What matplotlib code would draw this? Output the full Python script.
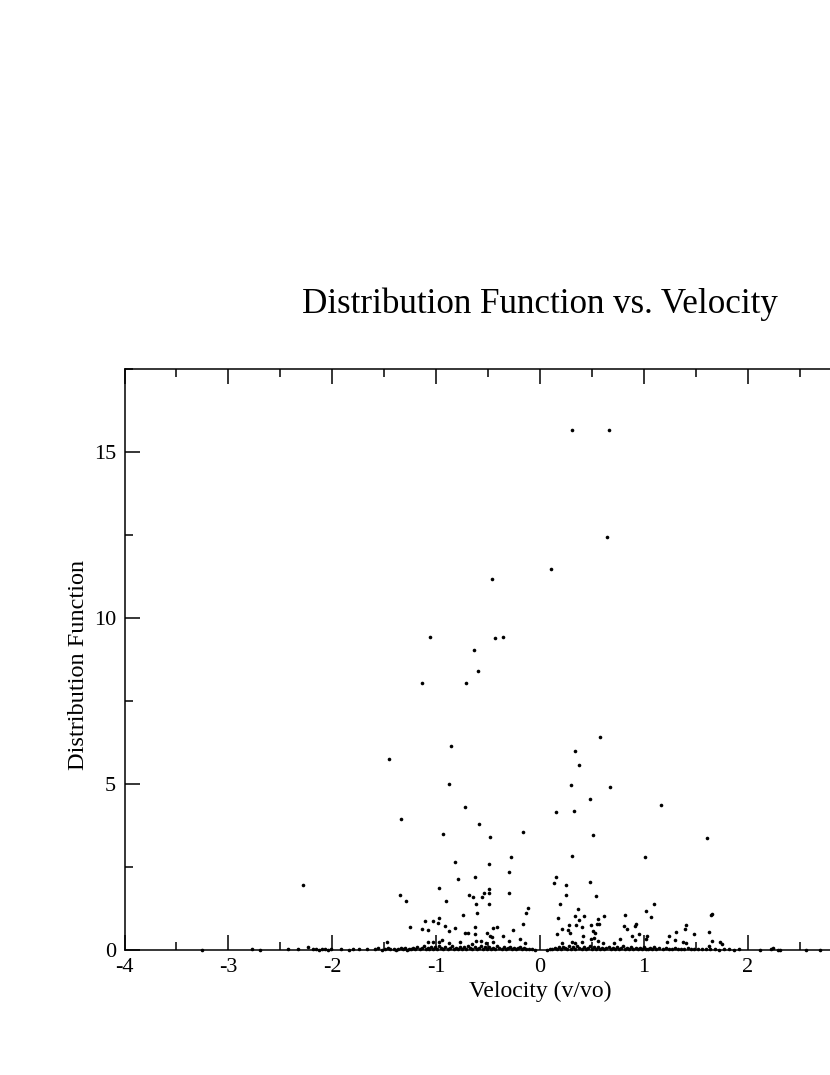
import matplotlib
matplotlib.use("Agg")
import matplotlib.pyplot as plt
from matplotlib.ticker import MultipleLocator, FuncFormatter

plt.rcParams['font.family'] = ['Liberation Serif', 'DejaVu Serif']
plt.rcParams['axes.unicode_minus'] = False

# --- data (velocity v/vo, distribution function) ---
# scattered points above the baseline
upper_pts = [
    (0.31, 15.66), (0.66, 15.66), (0.646, 12.44), (0.103, 11.47), (-0.463, 11.17),
    (-1.06, 9.42), (-0.43, 9.40), (-0.36, 9.42), (-0.634, 9.05), (-0.60, 8.39),
    (-1.14, 8.05), (-0.715, 8.03), (0.58, 6.43), (-0.857, 6.15), (0.336, 5.99),
    (0.372, 5.58), (-1.45, 5.74), (-0.876, 5.01), (0.30, 4.97), (0.673, 4.92),
    (0.48, 4.56), (1.162, 4.37), (-0.718, 4.32), (0.157, 4.15), (0.332, 4.18),
    (-1.334, 3.95), (-0.588, 3.79), (-0.162, 3.56), (-0.93, 3.49), (-0.485, 3.40),
    (0.511, 3.46), (1.607, 3.37), (-0.279, 2.80), (0.305, 2.82), (1.01, 2.79),
    (-0.818, 2.64), (-0.49, 2.59), (-0.296, 2.35), (0.152, 2.20), (0.13, 2.01),
    (0.246, 1.97), (0.48, 2.04), (-0.624, 2.20), (-0.79, 2.14), (-2.285, 1.96),
    (-1.352, 1.65), (-1.294, 1.47), (-0.969, 1.86), (-0.905, 1.47), (-0.68, 1.66),
    (-0.644, 1.59), (-0.615, 1.38), (-0.61, 1.12), (-0.555, 1.59), (-0.535, 1.71),
    (-0.494, 1.83), (-0.49, 1.73), (-0.494, 1.38), (-0.30, 1.71), (-0.74, 1.04),
    (-0.111, 1.26), (-0.133, 1.11), (-0.159, 0.77), (-0.262, 0.61), (-1.255, 0.68),
    (-1.107, 0.86), (-1.133, 0.62), (-1.082, 0.60), (-1.027, 0.86), (-0.979, 0.80),
    (-0.969, 0.95), (-0.918, 0.73), (-0.879, 0.57), (-0.82, 0.65), (-0.72, 0.52),
    (-0.69, 0.52), (-0.628, 0.70), (-0.628, 0.48), (-0.51, 0.50), (-0.484, 0.42),
    (-0.465, 0.40), (-0.448, 0.67), (-0.417, 0.68), (-0.36, 0.42), (-0.767, 0.25),
    (-1.082, 0.24), (-1.027, 0.24), (-0.972, 0.24), (-0.943, 0.30), (-0.879, 0.22),
    (-0.612, 0.27), (-0.567, 0.27), (-0.516, 0.22), (-0.451, 0.25), (-0.30, 0.27),
    (-0.195, 0.32), (-0.14, 0.20), (-0.654, 0.17), (-1.474, 0.25),
    (0.246, 1.67), (0.195, 1.38), (0.535, 1.63), (0.169, 0.96), (0.362, 1.23),
    (0.336, 1.03), (0.422, 1.01), (0.371, 0.90), (0.557, 0.93), (0.619, 1.02),
    (0.278, 0.76), (0.349, 0.75), (0.494, 0.76), (0.407, 0.69), (0.571, 0.79),
    (0.548, 0.77), (0.159, 0.49), (0.207, 0.62), (0.268, 0.59), (0.287, 0.51),
    (0.417, 0.43), (0.513, 0.56), (0.532, 0.50), (0.487, 0.32), (0.557, 0.27),
    (1.017, 1.18), (1.097, 1.39), (1.068, 1.00), (0.822, 1.04), (0.812, 0.73),
    (0.834, 0.63), (0.914, 0.73), (0.924, 0.78), (0.95, 0.49), (0.773, 0.34),
    (0.889, 0.41), (0.911, 0.31), (1.017, 0.33), (1.034, 0.42), (1.403, 0.76),
    (1.396, 0.63), (1.31, 0.55), (1.242, 0.43), (1.487, 0.47), (1.297, 0.30),
    (1.227, 0.25), (1.377, 0.25), (1.41, 0.20), (0.21, 0.22), (0.31, 0.25),
    (0.339, 0.22), (0.40, 0.23), (0.519, 0.35), (0.609, 0.22), (0.712, 0.20),
    (1.647, 1.06), (1.655, 1.08), (1.63, 0.53), (1.654, 0.28), (1.734, 0.23),
    (1.753, 0.17), (1.628, 0.11), (2.242, 0.05), (-2.235, 0.10),
]

# points sitting on (or just above) the zero line
low_pts = [
    (-3.25, 0.01), (-2.77, 0.02), (-2.70, 0.01), (-2.43, 0.03), (-2.33, 0.02),
    (-2.19, 0.02), (-2.16, 0.04), (-2.13, 0.01), (-2.10, 0.03), (-2.07, 0.02),
    (-2.04, 0.01), (-2.01, 0.03), (-1.92, 0.02), (-1.84, 0.01), (-1.80, 0.03),
    (-1.74, 0.02), (-1.67, 0.04), (-1.59, 0.02), (-1.56, 0.05), (-1.52, 0.01),
    (-1.49, 0.03), (-1.46, 0.06), (-1.44, 0.02), (-1.41, 0.04), (-1.39, 0.01),
    (-1.37, 0.03), (-1.34, 0.05), (-1.32, 0.02), (-1.30, 0.07), (-1.28, 0.01),
    (-1.26, 0.04), (-1.24, 0.02), (-1.22, 0.06), (-1.20, 0.03), (-1.18, 0.09),
    (-1.16, 0.02), (-1.14, 0.05), (-1.12, 0.11), (-1.10, 0.03), (-1.08, 0.07),
    (-1.07, 0.02), (-1.05, 0.10), (-1.03, 0.04), (-1.01, 0.08), (-0.99, 0.02),
    (-0.97, 0.12), (-0.95, 0.05), (-0.93, 0.03), (-0.91, 0.09), (-0.89, 0.02),
    (-0.87, 0.06), (-0.85, 0.11), (-0.83, 0.03), (-0.81, 0.07), (-0.79, 0.02),
    (-0.77, 0.10), (-0.75, 0.04), (-0.73, 0.08), (-0.71, 0.02), (-0.69, 0.13),
    (-0.67, 0.05), (-0.65, 0.03), (-0.63, 0.09), (-0.61, 0.02), (-0.59, 0.06),
    (-0.57, 0.12), (-0.55, 0.03), (-0.53, 0.08), (-0.51, 0.02), (-0.49, 0.10),
    (-0.47, 0.04), (-0.45, 0.07), (-0.43, 0.02), (-0.41, 0.11), (-0.39, 0.05),
    (-0.37, 0.03), (-0.35, 0.09), (-0.33, 0.02), (-0.31, 0.06), (-0.29, 0.10),
    (-0.27, 0.03), (-0.25, 0.07), (-0.23, 0.02), (-0.21, 0.05), (-0.19, 0.09),
    (-0.17, 0.03), (-0.15, 0.06), (-0.13, 0.02), (-0.11, 0.04), (-0.08, 0.02),
    (-0.05, 0.01), (0.07, 0.01), (0.10, 0.03), (0.12, 0.02), (0.14, 0.05),
    (0.16, 0.02), (0.18, 0.08), (0.20, 0.03), (0.22, 0.10), (0.24, 0.05),
    (0.26, 0.02), (0.28, 0.12), (0.30, 0.04), (0.32, 0.08), (0.34, 0.02),
    (0.36, 0.11), (0.38, 0.05), (0.40, 0.03), (0.42, 0.09), (0.44, 0.02),
    (0.46, 0.06), (0.48, 0.12), (0.50, 0.03), (0.52, 0.08), (0.54, 0.02),
    (0.56, 0.10), (0.58, 0.04), (0.60, 0.07), (0.62, 0.02), (0.64, 0.05),
    (0.66, 0.09), (0.68, 0.03), (0.70, 0.06), (0.72, 0.02), (0.74, 0.08),
    (0.76, 0.03), (0.78, 0.05), (0.80, 0.11), (0.82, 0.02), (0.84, 0.06),
    (0.86, 0.03), (0.88, 0.09), (0.90, 0.02), (0.92, 0.05), (0.94, 0.03),
    (0.96, 0.07), (0.98, 0.02), (1.00, 0.10), (1.02, 0.04), (1.04, 0.02),
    (1.06, 0.06), (1.08, 0.03), (1.10, 0.08), (1.12, 0.02), (1.15, 0.05),
    (1.18, 0.02), (1.21, 0.07), (1.24, 0.03), (1.27, 0.02), (1.30, 0.06),
    (1.33, 0.02), (1.36, 0.04), (1.39, 0.02), (1.42, 0.05), (1.45, 0.02),
    (1.48, 0.03), (1.52, 0.02), (1.56, 0.04), (1.60, 0.02), (1.64, 0.03),
    (1.68, 0.02), (1.72, 0.01), (1.77, 0.03), (1.82, 0.02), (1.87, 0.01),
    (1.92, 0.02), (2.12, 0.01), (2.22, 0.02), (2.29, 0.01), (2.31, 0.01),
    (2.56, 0.01), (2.70, 0.01),
]

x_upper = [p[0] for p in upper_pts]
y_upper = [p[1] for p in upper_pts]
x_low = [p[0] for p in low_pts]
y_low = [p[1] for p in low_pts]

W, H = 830, 1075
fig = plt.figure(figsize=(W / 100, H / 100), dpi=100)
# axes box runs past the right edge of the picture (cropped like the reference)
ax = fig.add_axes([124.5 / W, 125 / H, 831 / W, 581 / H])

for xs, ys in ((x_low, y_low), (x_upper, y_upper)):
    ax.plot(xs, ys, 'o', color='black', ms=2.6, mew=0, clip_on=False)

ax.set_xlim(-4, 4)
ax.set_ylim(0, 17.5)
ax.xaxis.set_major_locator(MultipleLocator(1))
ax.xaxis.set_minor_locator(MultipleLocator(0.5))
ax.yaxis.set_major_locator(MultipleLocator(5))
ax.yaxis.set_minor_locator(MultipleLocator(2.5))
# labels past x=2 fall outside the cropped picture
ax.xaxis.set_major_formatter(FuncFormatter(lambda v, p: '%d' % v if v < 2.9 else ''))
ax.tick_params(which='both', direction='in', top=True, right=True,
               width=1.1, labelsize=16, colors='black')
ax.tick_params(which='major', length=11, pad=6)
ax.tick_params(which='minor', length=5.5)
for s in ax.spines.values():
    s.set_linewidth(1.1)

fig.text(539.5 / W, 1 - 313 / H, 'Distribution Function vs. Velocity',
         ha='center', va='baseline', fontsize=25.2)
fig.text(540 / W, 1 - 997 / H, 'Velocity (v/vo)', ha='center', va='baseline', fontsize=17)
fig.text(79 / W, 1 - 665 / H, 'Distribution Function', ha='center', va='center',
         rotation=90, fontsize=17.5)

fig.savefig('out.png', dpi=100)
